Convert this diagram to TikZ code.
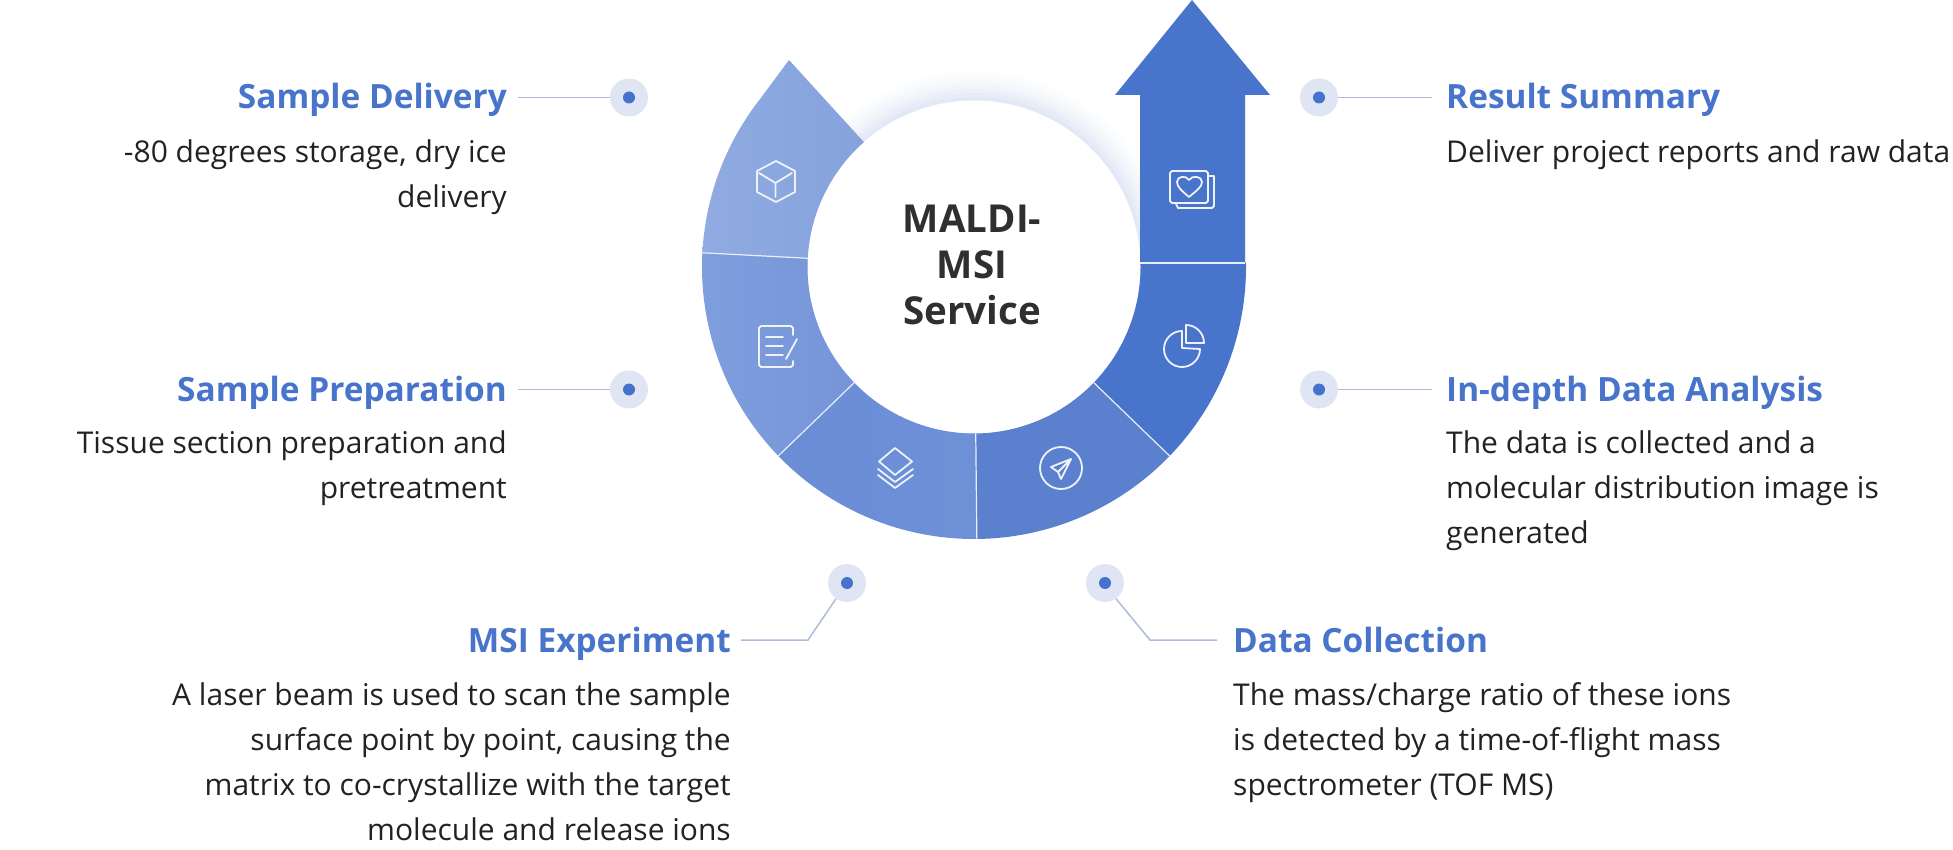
\documentclass[tikz,border=0pt]{standalone}
\usepackage{fontspec}
\setmainfont{Open Sans}
\definecolor{headblue}{HTML}{4874CB}
\definecolor{bodyink}{HTML}{222222}
\definecolor{titleink}{HTML}{2F2F2F}
\definecolor{paledot}{HTML}{DFE5F3}
\definecolor{dotblue}{HTML}{4472CC}
\definecolor{leader}{HTML}{AEBBDA}
\definecolor{segA}{HTML}{8FABE1}
\definecolor{segAb}{HTML}{86A2DD}
\definecolor{segB}{HTML}{7F9EDD}
\definecolor{segBb}{HTML}{7595D9}
\definecolor{segC}{HTML}{6A8DD6}
\definecolor{segCb}{HTML}{6E90D7}
\definecolor{segD}{HTML}{5B80CD}
\definecolor{segE}{HTML}{4874CB}
\definecolor{glowc}{HTML}{DDE4F3}
\tikzset{
  x=1pt,y=-1pt,
  headl/.style={inner sep=0pt,text=headblue,font=\fontsize{33.4}{36}\selectfont\bfseries},
  bodyl/.style={inner sep=0pt,text=bodyink,font=\fontsize{30}{45}\selectfont,align=left,anchor=north west},
  bodyr/.style={inner sep=0pt,text=bodyink,font=\fontsize{30}{45}\selectfont,align=right,anchor=north east},
  halo/.style={circle,fill=paledot,minimum size=38pt,inner sep=0pt},
  core/.style={circle,fill=dotblue,minimum size=12pt,inner sep=0pt},
  leadline/.style={draw=leader,line width=1.5pt},
  divider/.style={draw=white!80!segA,line width=1.2pt},
  icon/.style={draw=white!85!segA,line width=1.8pt,line cap=round,line join=round},
}
\begin{document}
\begin{tikzpicture}
\useasboundingbox (0,0) rectangle (1953,850);
% glow under the ring
\foreach \r/\m in {198/5,194/12,190/20,186/30,182/42,178/56,174/70,170/85}{
  \fill[glowc!\m!white] (974,267) circle[radius=\r];
}
\fill[white] (974,267) circle[radius=166.5];
% ring segments (y up, around the centre)
\begin{scope}[shift={(974,267)},y=1pt]
  \shade[left color=segA,right color=segAb] (177:272) arc[start angle=177,end angle=142,radius=272] -- (-185,207) -- (131.4:166.5) arc[start angle=131.4,end angle=177,radius=166.5] -- cycle;
  \shade[left color=segB,right color=segBb] (177:272) arc[start angle=177,end angle=224,radius=272] -- (224:166.5) arc[start angle=224,end angle=177,radius=166.5] -- cycle;
  \shade[left color=segC,right color=segCb] (224:272) arc[start angle=224,end angle=270.6,radius=272] -- (270.6:166.5) arc[start angle=270.6,end angle=224,radius=166.5] -- cycle;
  \fill[segD] (270.6:272) arc[start angle=270.6,end angle=316,radius=272] -- (316:166.5) arc[start angle=316,end angle=270.6,radius=166.5] -- cycle;
  \fill[segE] (316:272) arc[start angle=316,end angle=361,radius=272] -- (1:166.5) arc[start angle=361,end angle=316,radius=166.5] -- cycle;
  \draw[divider] (177:272) -- (177:166.5);
  \draw[divider] (224:272) -- (224:166.5);
  \draw[divider] (270.6:272) -- (270.6:166.5);
  \draw[divider] (316:272) -- (316:166.5);
\end{scope}
% arrow
\fill[segE] (1140,263.5) -- (1140,95) -- (1115,95) -- (1192,0) -- (1270,95) -- (1245,95) -- (1245,263.5) -- cycle;
\draw[divider] (1140,263) -- (1245,263);
% centre title
\node[inner sep=0pt,align=center,text=titleink,font=\fontsize{38.5}{46}\selectfont\bfseries] (title) at (972,265) {MALDI-\\MSI\\Service};
% icons
% cube
\draw[icon] (776,161) -- (795,171) -- (795,192) -- (776,202) -- (757,192) -- (757,171) -- cycle;
\draw[icon] (759,173) -- (775.5,183) -- (792,173) (775.5,183) -- (775.5,197);
% note
\draw[icon] (793,335) -- (793,328) -- (791,326) -- (761,326) -- (759,328) -- (759,365) -- (761,367) -- (791,367) -- (793,365) -- (793,361);
\draw[icon] (766,337) -- (783,337) (766,346) -- (783,346) (766,355) -- (783,355) (797,339) -- (786,359);
% layers
\draw[icon] (895,448) -- (912,461.5) -- (895,475) -- (879,461.5) -- cycle;
\draw[icon] (878,469) -- (895,482) -- (913,469) (878,475) -- (895,488) -- (913,475);
% plane
\draw[icon] (1061,468) circle[radius=21];
\draw[icon] (1071,459) -- (1051,467) -- (1058,472) -- (1061,479) -- cycle (1071,459) -- (1058,472);
% pie
\begin{scope}[shift={(1182,348)},y=1pt]
  \draw[icon] (0,17) arc[start angle=90,end angle=360,radius=18] -- (0,0) -- cycle;
\end{scope}
\begin{scope}[shift={(1186,343)},y=1pt]
  \draw[icon,fill=segE] (0,18) -- (0,0) -- (18,0) arc[start angle=0,end angle=90,radius=18] -- cycle;
\end{scope}
% heart card
\draw[icon] (1172,171) -- (1206,171) -- (1208,173) -- (1208,201) -- (1206,203) -- (1172,203) -- (1170,201) -- (1170,173) -- cycle;
\draw[icon] (1209,176) -- (1214,176) -- (1214,206) -- (1212,208) -- (1178,208) -- (1176,204);
\draw[icon] (1189,197) .. controls (1182,191) and (1177,187) .. (1177,182) .. controls (1177,176) and (1186,175) .. (1189,180) .. controls (1192,175) and (1202,176) .. (1202,182) .. controls (1202,187) and (1196,191) .. (1189,197) -- cycle;
% dots
\foreach \n/\px/\py in {dA/629/97.5,dB/629/389.5,dC/847/583,dD/1105/583,dE/1319/389.5,dF/1319/97.5}{
  \node[halo] (\n) at (\px,\py) {};
  \node[core] (\n c) at (\px,\py) {};
}
% headings
\node[headl,anchor=base east] (hA) at (507,109) {Sample Delivery};
\node[headl,anchor=base east] (hB) at (507,401) {Sample Preparation};
\node[headl,anchor=base east] (hC) at (731,652) {MSI Experiment};
\node[headl,anchor=base west] (hD) at (1233,652) {Data Collection};
\node[headl,anchor=base west] (hE) at (1446,401) {In-depth Data Analysis};
\node[headl,anchor=base west] (hF) at (1446,109) {Result Summary};
% body text
\node[bodyr] (bA) at (507,131) {\strut -80 degrees storage, dry ice\\\strut delivery};
\node[bodyr] (bB) at (507,422) {\strut Tissue section preparation and\\\strut pretreatment};
\node[bodyr] (bC) at (731,674) {\strut A laser beam is used to scan the sample\\\strut surface point by point, causing the\\\strut matrix to co-crystallize with the target\\\strut molecule and release ions};
\node[bodyl] (bD) at (1233,674) {\strut The mass/charge ratio of these ions\\\strut is detected by a time-of-flight mass\\\strut spectrometer (TOF MS)};
\node[bodyl] (bE) at (1446,422) {\strut The data is collected and a\\\strut molecular distribution image is\\\strut generated};
\node[bodyl] (bF) at (1446,131) {\strut Deliver project reports and raw data};
% leaders
\coordinate (lA) at (518,97.5);
\coordinate (lB) at (518,389.5);
\coordinate (lC) at (741,640);
\coordinate (kC) at (808,640);
\coordinate (lD) at (1217,640);
\coordinate (kD) at (1150,640);
\coordinate (lE) at (1432,389.5);
\coordinate (lF) at (1432,97.5);
\draw[leadline] (lA) -- (dA.west);
\draw[leadline] (lB) -- (dB.west);
\draw[leadline] (lC) -- (kC) -- (dC.235);
\draw[leadline] (lD) -- (kD) -- (dD.305);
\draw[leadline] (dE.east) -- (lE);
\draw[leadline] (dF.east) -- (lF);
\end{tikzpicture}
\end{document}
